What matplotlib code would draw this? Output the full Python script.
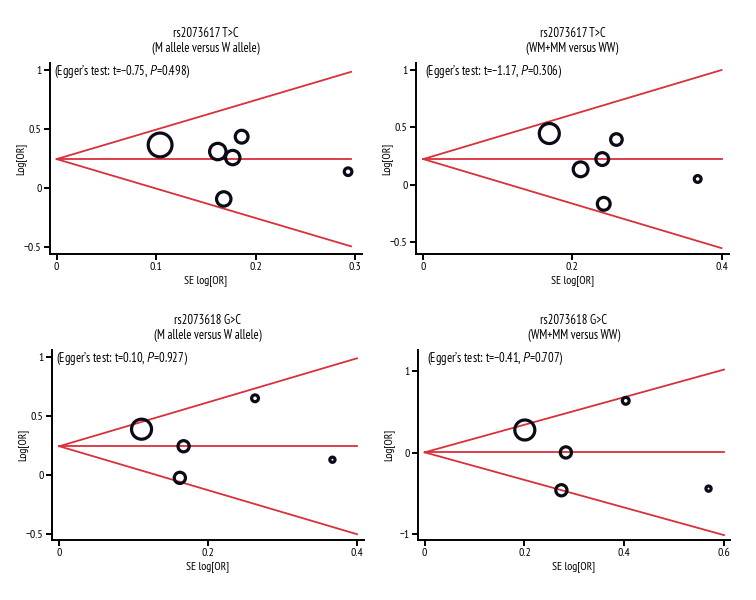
import matplotlib
matplotlib.use("Agg")
import numpy as np
from matplotlib import pyplot as plt

plt.rcParams['font.family'] = ['PT Sans Narrow', 'DejaVu Sans']
plt.rcParams['mathtext.fontset'] = 'custom'
plt.rcParams['mathtext.rm'] = 'PT Sans Narrow'
plt.rcParams['mathtext.it'] = 'PT Sans:italic'

# panel data: SE log[OR], log[OR], marker radius (study weight)
titles = ["rs2073617 T>C\n(M allele versus W allele)",
          "rs2073617 T>C\n(WM+MM versus WW)",
          "rs2073618 G>C\n(M allele versus W allele)",
          "rs2073618 G>C\n(WM+MM versus WW)"]
egger_t = ["\u22120.75", "\u22121.17", "0.10", "\u22120.41"]
egger_p = ["0.498", "0.306", "0.927", "0.707"]

se1 = [0.104, 0.162, 0.177, 0.186, 0.168, 0.293]
lor1 = [0.365, 0.309, 0.258, 0.435, -0.093, 0.138]
w1 = [13.5, 9.8, 8.8, 8.0, 8.8, 5.4]

se2 = [0.169, 0.211, 0.240, 0.259, 0.242, 0.368]
lor2 = [0.447, 0.136, 0.225, 0.395, -0.164, 0.052]
w2 = [11.6, 9.0, 8.0, 7.4, 8.0, 5.0]

se3 = [0.1105, 0.167, 0.162, 0.263, 0.367]
lor3 = [0.388, 0.244, -0.023, 0.649, 0.130]
w3 = [11.6, 7.2, 7.2, 5.0, 4.2]

se4 = [0.2007, 0.283, 0.274, 0.403, 0.569]
lor4 = [0.279, 0.004, -0.46, 0.637, -0.44]
w4 = [11.6, 7.2, 7.2, 5.0, 4.2]

# pooled estimate, end of funnel, half-width of funnel at the end
centers = [0.245, 0.225, 0.244, 0.005]
se_end = [0.296, 0.40, 0.40, 0.60]
half_end = [0.74, 0.774, 0.743, 1.015]

xticks = [[0, 0.1, 0.2, 0.3], [0, 0.2, 0.4], [0, 0.2, 0.4], [0, 0.2, 0.4, 0.6]]
yticks = [[-0.5, 0, 0.5, 1], [-0.5, 0, 0.5, 1], [-0.5, 0, 0.5, 1], [-1, 0, 1]]
xlims = [(-0.0067, 0.307), (-0.0098, 0.41), (-0.0098, 0.4094), (-0.0134, 0.612)]
ylims = [(-0.56, 1.06), (-0.60, 1.06), (-0.548, 1.057), (-1.07, 1.26)]

data = [(se1, lor1, w1), (se2, lor2, w2), (se3, lor3, w3), (se4, lor4, w4)]

# axes boxes in pixels: left, top, right, bottom
W, H = 756, 600
boxes = [(50, 63, 362, 254), (416, 63, 729, 254),
         (52, 350, 364, 540), (418, 350, 730, 540)]

fig = plt.figure(figsize=(7.56, 6.0), dpi=100)
red = '#d8303c'
ink = '#0b0b18'

for i in range(4):
    l, t, r, b = boxes[i]
    ax = fig.add_axes([l / W, 1 - b / H, (r - l) / W, (b - t) / H])
    se, lor, w = data[i]
    c = centers[i]
    xs = np.array([0, se_end[i]])
    ax.plot(xs, c + xs / se_end[i] * half_end[i], color=red, lw=1.3, zorder=1)
    ax.plot(xs, c - xs / se_end[i] * half_end[i], color=red, lw=1.3, zorder=1)
    ax.plot(xs, [c, c], color=red, lw=1.3, zorder=1)
    sizes = (np.array(w) * 2 * 0.72 - 2.3) ** 2
    ax.scatter(se, lor, s=sizes, facecolors='none', edgecolors=ink, linewidths=2.3, zorder=3)

    ax.set_xlim(*xlims[i])
    ax.set_ylim(*ylims[i])
    ax.set_xticks(xticks[i])
    ax.set_yticks(yticks[i])
    ax.set_xticklabels([("%g" % v) for v in xticks[i]])
    ax.set_yticklabels([("%g" % v).replace('-', '\u2212') for v in yticks[i]])
    for s in ['top', 'right']:
        ax.spines[s].set_visible(False)
    for s in ['left', 'bottom']:
        ax.spines[s].set_linewidth(1.4)
    ax.tick_params(direction='out', length=4, width=1.4, labelsize=8.5, pad=2)
    ax.set_xlabel("SE log[OR]", fontsize=8.5, va='center')
    ax.set_ylabel("Log[OR]", fontsize=8.5, va='center')
    ax.xaxis.set_label_coords(0.5, -26.5 / (b - t))
    ax.yaxis.set_label_coords(-29.0 / (r - l), 0.5)
    ax.set_title(titles[i], fontsize=9, pad=8, linespacing=1.15)
    ax.text(0.014 if i % 2 == 0 else 0.028, 0.956,
            "(Egger\u2019s test: t=%s, $P$=%s)" % (egger_t[i], egger_p[i]),
            transform=ax.transAxes, fontsize=9, va='center', ha='left')

plt.savefig("out.png", dpi=100)
